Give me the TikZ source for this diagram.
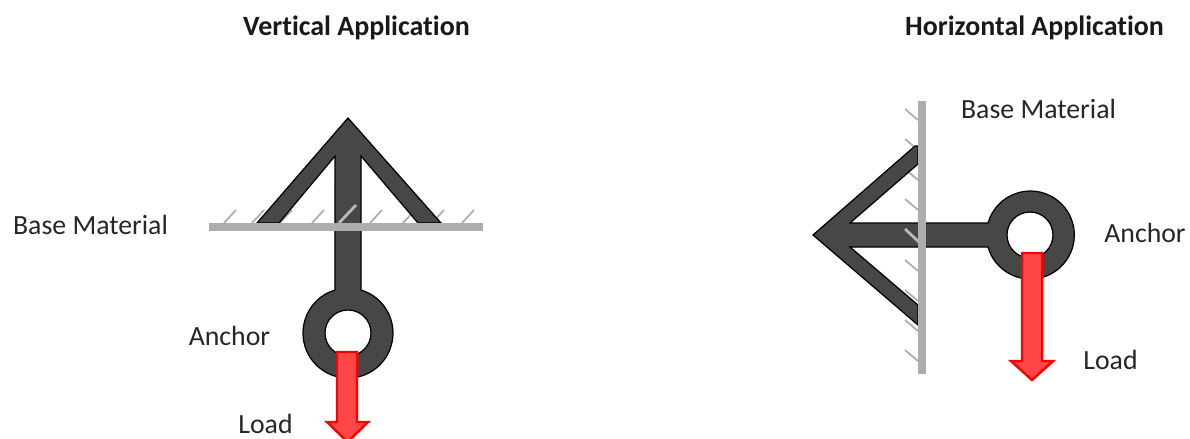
\documentclass[tikz,border=0pt]{standalone}
\usepackage{fontspec}
\setmainfont[Ligatures=CommonOff]{Carlito}
\begin{document}
\begin{tikzpicture}[x=0.01cm,y=0.01cm,
  lbl/.style={inner sep=0pt,anchor=base,text=black!85,font=\fontsize{7.9}{9}\selectfont},
  ttl/.style={inner sep=0pt,anchor=base,text=black!90,font=\fontsize{7.95}{9}\selectfont\bfseries},
  anchorbody/.style={draw=black,fill=black!72,line width=0.35pt,even odd rule,line join=miter},
  basebar/.style={draw=black!32,line width=2pt},
  hatch/.style={draw=black!32,line width=0.5pt},
  hatchthick/.style={draw=black!28,line width=0.8pt},
  loadarrow/.style={draw=red,fill=red!72,line width=0.7pt,line join=miter}]
\useasboundingbox (0,0) rectangle (1190,438);
\clip (0,0) rectangle (1190,438);
% titles
\node[ttl] (t1) at (356.5,403) {Vertical Application};
\node[ttl] (t2) at (1034.5,403) {Horizontal Application};
% vertical application
\foreach \x in {224,252,280,312,370,403,432,462}
  \draw[hatch] (\x,215) -- ++(12,13);
\draw[anchorbody] (348,320) -- (441,215) -- (418,215) -- (361,282) -- (361,148)
  arc[start angle=73.2,end angle=-253.2,radius=45] -- (335,282) -- (279,215) -- (257,215) -- cycle
  (348,105) circle[radius=23];
\draw[hatchthick] (339,215) -- ++(17,18);
\draw[basebar] (209,211) -- (483,211);
\draw[loadarrow] (337,86) -- (357,86) -- (357,16) -- (368,16) -- (347.5,-4) -- (327,16) -- (337,16) -- cycle;
% horizontal application
\foreach \y in {329,299,269,239,178,148,118,88}
  \draw[hatch] (905,\y) -- ++(13,-11);
\draw[anchorbody] (813,203) -- (918,113) -- (918,133) -- (850,191) -- (988,191)
  arc[start angle=195.8,end angle=524.2,radius=44] -- (850,215) -- (918,274) -- (918,292) -- (915,292) -- cycle
  (1030,203) circle[radius=23];
\draw[hatchthick] (905,209) -- ++(15,-14);
\draw[basebar] (922,337) -- (922,64);
\draw[loadarrow] (1022,185) -- (1042,185) -- (1042,77) -- (1053,77) -- (1032,58) -- (1011,77) -- (1022,77) -- cycle;
% labels
\node[lbl] (b1) at (90.5,204) {Base Material};
\node[lbl] (a1) at (229.5,93) {Anchor};
\node[lbl] (l1) at (265.5,5) {Load};
\node[lbl] (b2) at (1038.5,320) {Base Material};
\node[lbl] (a2) at (1145,196) {Anchor};
\node[lbl] (l2) at (1110.5,69) {Load};
\end{tikzpicture}
\end{document}
